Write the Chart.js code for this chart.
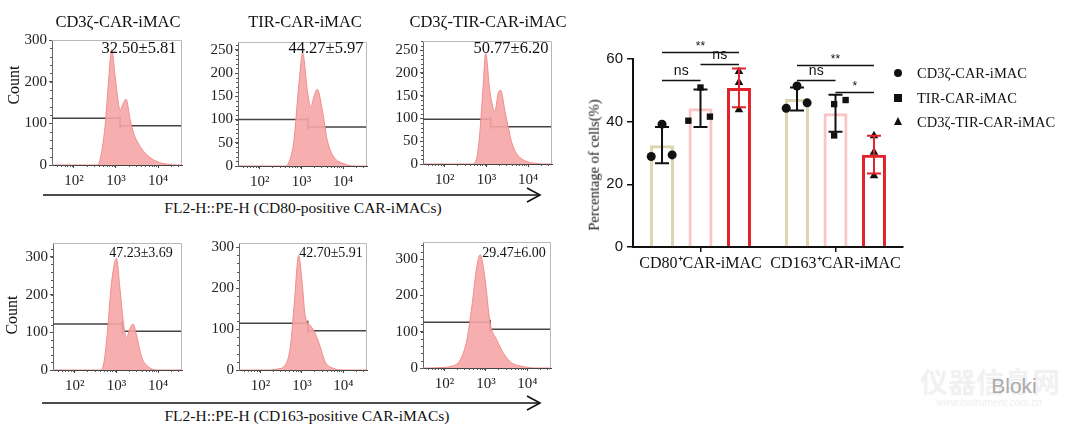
<!DOCTYPE html>
<html><head><meta charset="utf-8">
<script src="https://cdn.jsdelivr.net/npm/chart.js@4.4.0/dist/chart.umd.min.js"></script>
<style>
html,body{margin:0;padding:0;background:#fff;}
body{width:1080px;height:427px;position:relative;overflow:hidden;font-family:"Liberation Serif",serif;color:#111;}
.t{position:absolute;white-space:nowrap;transform:translate(-50%,-50%);line-height:1;}
canvas{position:absolute;}
svg{position:absolute;left:0;top:0;}
</style></head><body>
<svg width="1080" height="427" id="arrows"></svg>
<script>
// ================= DATA =================
const histTitles = ['CD3ζ-CAR-iMAC', 'TIR-CAR-iMAC', 'CD3ζ-TIR-CAR-iMAC'];
const histStats = ['32.50±5.81', '44.27±5.97', '50.77±6.20', '47.23±3.69', '42.70±5.91', '29.47±6.00'];
const flowAxisTitles = ['FL2-H::PE-H (CD80-positive CAR-iMACs)', 'FL2-H::PE-H (CD163-positive CAR-iMACs)'];
const countTitle = 'Count';
const logTickValues = [2, 3, 4];
const logTickLabels = ['10²', '10³', '10⁴'];

// histogram curves: log10(FL2-H) positions and counts
const h1Log   = [1.48, 2.54, 2.62, 2.74, 2.82, 2.90, 2.98, 3.10, 3.18, 3.24, 3.34, 3.42, 3.58, 3.74, 3.98, 4.22, 4.46, 4.57];
const h1Count = [0,    0,    12,   92,   196,  278,  214,  132,  150,  158,  108,  76,   44,   24,   8,    2,    0,    0];
const h2Log   = [1.48, 2.62, 2.70, 2.82, 2.94, 3.03, 3.14, 3.22, 3.31, 3.38, 3.50, 3.62, 3.78, 4.02, 4.26, 4.57];
const h2Count = [0,    0,    8,    55,   178,  243,  163,  127,  153,  165,  120,  55,   19,   5,    0,    0];
const h3Log   = [1.48, 2.64, 2.76, 2.84, 2.92, 2.98, 3.08, 3.20, 3.28, 3.34, 3.44, 3.52, 3.60, 3.72, 3.88, 4.12, 4.35, 4.57];
const h3Count = [0,    0,    10,   67,   170,  243,  162,  115,  155,  162,  118,  82,   49,   23,   9,    2,    0,    0];
const h4Log   = [1.48, 2.60, 2.68, 2.78, 2.88, 3.00, 3.08, 3.16, 3.24, 3.32, 3.40, 3.48, 3.60, 3.76, 3.96, 4.57];
const h4Count = [0,    0,    10,   97,   229,  296,  221,  132,  84,   110,  122,  93,   35,   9,    0,    0];
const h5Log   = [1.48, 2.24, 2.44, 2.56, 2.72, 2.82, 2.92, 3.00, 3.08, 3.20, 3.32, 3.44, 3.56, 3.76, 4.00, 4.57];
const h5Count = [0,    0,    3,    8,    57,   170,  280,  219,  130,  109,  89,   57,   20,   4,    0,    0];
const h6Log   = [1.48, 1.62, 1.86, 2.18, 2.38, 2.54, 2.66, 2.78, 2.86, 2.97, 3.10, 3.26, 3.42, 3.62, 3.86, 4.18, 4.57];
const h6Count = [0,    0,    1,    5,    23,   78,   170,  280,  312,  252,  124,  78,   41,   14,   5,    0,    0];

// gates: split position (log10) and left / right marker heights (counts)
const gateLog   = [3.10, 3.15, 3.10, 3.14, 3.14, 3.10];
const gateLeft  = [112, 100, 98, 122, 114, 126];
const gateRight = [94, 84, 82, 103, 96, 107];
const histYMax  = [300, 267, 270, 337, 310, 347];
const histYStep = [100, 50, 50, 100, 100, 100];

// bar chart
const groups = ['CD80⁺CAR-iMAC', 'CD163⁺CAR-iMAC'];
const seriesNames = ['CD3ζ-CAR-iMAC', 'TIR-CAR-iMAC', 'CD3ζ-TIR-CAR-iMAC'];
const meanCD3z    = [32.50, 47.23];
const meanTIR     = [44.27, 42.70];
const meanCD3zTIR = [50.77, 29.47];
const sdCD3z      = [5.81, 3.69];
const sdTIR       = [5.97, 5.91];
const sdCD3zTIR   = [6.20, 6.00];
const ptsCD3z     = [[28.9, 39.2, 29.4], [44.3, 51.4, 46.0]];
const ptsTIR      = [[40.3, 50.9, 41.6], [45.6, 46.9, 35.6]];
const ptsCD3zTIR  = [[56.0, 52.5, 43.8], [35.5, 30.2, 22.7]];
const yAxisTitle = 'Percentage of cells(%)';
// significance: [group, seriesA, seriesB, level(%), label]
const sigBrackets = [
  [0, 0, 2, 62.2, '**'], [0, 1, 2, 58.4, 'ns'], [0, 0, 1, 53.3, 'ns'],
  [1, 0, 2, 58.1, '**'], [1, 0, 1, 53.3, 'ns'], [1, 1, 2, 49.5, '*']
];

// ================= LAYOUT / STYLE =================
Chart.defaults.animation = false;
const LOG_MIN = 1.48, LOG_MAX = 4.57;
const HIST_BOX = [
  {l:52, t:40, r:182, b:165}, {l:238, t:42, r:367, b:166}, {l:423, t:41, r:552, b:164},
  {l:53, t:243, r:182, b:370}, {l:239, t:243, r:367, b:370}, {l:423, t:242, r:551, b:368}
];
const PAD_T = 12, PAD_R = 12, Y_W = 40, X_H = 26;
const SERIF = 'Liberation Serif', SANS = 'Liberation Sans';

function makeCanvas(left, top, w, h) {
  const c = document.createElement('canvas');
  c.width = w; c.height = h;
  c.style.left = left + 'px'; c.style.top = top + 'px';
  c.style.width = w + 'px'; c.style.height = h + 'px';
  document.body.appendChild(c);
  return c;
}
function addText(txt, x, y, css) {
  const d = document.createElement('div');
  d.className = 't'; d.textContent = txt;
  d.style.left = x + 'px'; d.style.top = y + 'px';
  Object.assign(d.style, css || {});
  document.body.appendChild(d);
  return d;
}

const framePlugin = {
  id: 'frame',
  afterDraw(chart) {
    const {ctx, chartArea: a} = chart;
    ctx.save();
    ctx.strokeStyle = '#b8b8b8'; ctx.lineWidth = 1;
    ctx.beginPath();
    ctx.moveTo(a.left, a.top + 0.5); ctx.lineTo(a.right - 0.5, a.top + 0.5); ctx.lineTo(a.right - 0.5, a.bottom);
    ctx.stroke();
    const xs = chart.scales.x, ys = chart.scales.y;
    ctx.strokeStyle = '#555'; ctx.beginPath();
    for (let n = 1; n <= 4; n++) for (let k = 2; k <= 9; k++) {
      const v = Math.log10(k * Math.pow(10, n));
      if (v < xs.min || v > xs.max) continue;
      const px = Math.round(xs.getPixelForValue(v)) + 0.5;
      ctx.moveTo(px, a.bottom); ctx.lineTo(px, a.bottom + 2);
    }
    const st = chart.options.scales.y.ticks.stepSize / 5;
    for (let v = 0; v <= ys.max; v += st) {
      const py = Math.round(ys.getPixelForValue(v)) + 0.5;
      ctx.moveTo(a.left, py); ctx.lineTo(a.left - 2, py);
    }
    ctx.stroke();
    ctx.restore();
  }
};

const histData = [[h1Log, h1Count], [h2Log, h2Count], [h3Log, h3Count], [h4Log, h4Count], [h5Log, h5Count], [h6Log, h6Count]];
histData.forEach((d, i) => {
  const box = HIST_BOX[i];
  const w = box.r - box.l + Y_W + PAD_R, h = box.b - box.t + PAD_T + X_H;
  const cv = makeCanvas(box.l - Y_W, box.t - PAD_T, w, h);
  const ov = 6 * histYMax[i] / 300;
  const gatePts = [
    {x: LOG_MIN, y: gateLeft[i]}, {x: gateLog[i], y: gateLeft[i]}, {x: gateLog[i], y: gateLeft[i] + ov},
    {x: gateLog[i], y: gateRight[i] - ov}, {x: gateLog[i], y: gateRight[i]}, {x: LOG_MAX, y: gateRight[i]}
  ];
  new Chart(cv, {
    type: 'line',
    data: {datasets: [
      {data: d[0].map((x, k) => ({x, y: d[1][k]})), fill: 'origin', backgroundColor: 'rgba(246,165,165,0.9)',
       borderColor: '#f08c8c', borderWidth: 1, pointRadius: 0, cubicInterpolationMode: 'monotone'},
      {data: gatePts, borderColor: '#444', borderWidth: 1.5, pointRadius: 0, fill: false, tension: 0}
    ]},
    options: {
      responsive: false, events: [],
      layout: {padding: {top: PAD_T, right: PAD_R, left: 0, bottom: 0}},
      plugins: {legend: {display: false}, tooltip: {enabled: false}},
      scales: {
        x: {type: 'linear', min: LOG_MIN, max: LOG_MAX,
            afterBuildTicks: s => { s.ticks = logTickValues.map(v => ({value: v})); },
            afterFit: s => { s.height = X_H; },
            ticks: {callback: v => logTickLabels[logTickValues.indexOf(v)], font: {family: SERIF, size: 15},
                    color: '#222', padding: 4, maxRotation: 0, autoSkip: false},
            grid: {drawOnChartArea: false, drawTicks: true, tickLength: 3, color: '#444'},
            border: {color: '#444', width: 1}},
        y: {type: 'linear', min: 0, max: histYMax[i],
            afterBuildTicks: s => { const t = []; for (let v = 0; v <= histYMax[i]; v += histYStep[i]) t.push({value: v}); s.ticks = t; },
            afterFit: s => { s.width = Y_W; },
            ticks: {stepSize: histYStep[i], font: {family: SERIF, size: 15}, color: '#222', padding: 2},
            grid: {drawOnChartArea: false, drawTicks: true, tickLength: 3, color: '#555'},
            border: {color: '#666', width: 1}}
      }
    },
    plugins: [framePlugin]
  });
});

// histogram texts
const titlePos = [[118, 22], [305, 22], [488, 22]];
histTitles.forEach((t, i) => addText(t, titlePos[i][0], titlePos[i][1], {fontSize: '16.5px'}));
const statPos = [[139, 48], [326, 48], [511, 48], [141, 253], [331, 253], [514, 253]];
histStats.forEach((t, i) => addText(t, statPos[i][0], statPos[i][1], {fontSize: i < 3 ? '16.5px' : '14px'}));
addText(countTitle, 14, 85, {fontSize: '16px', transform: 'translate(-50%,-50%) rotate(-90deg)'});
addText(countTitle, 12, 315, {fontSize: '16px', transform: 'translate(-50%,-50%) rotate(-90deg)'});
addText(flowAxisTitles[0], 303, 208, {fontSize: '15.5px'});
addText(flowAxisTitles[1], 307, 416, {fontSize: '15.5px'});
document.getElementById('arrows').innerHTML =
  '<g stroke="#111" stroke-width="1.6" fill="none">' +
  '<line x1="43" y1="195" x2="540" y2="195"/><polyline points="527,188 540,195 527,202"/>' +
  '<line x1="42" y1="403" x2="540" y2="403"/><polyline points="527,396 540,403 527,410"/></g>';

// ================= BAR CHART =================
const means = [meanCD3z, meanTIR, meanCD3zTIR];
const sds = [sdCD3z, sdTIR, sdCD3zTIR];
const pts = [ptsCD3z, ptsTIR, ptsCD3zTIR];
const barColors = ['#ddd5b2', '#f8c6c6', '#e3232b'];
const errColors = ['#111', '#111', '#e3232b'];
const markerStyles = ['circle', 'rect', 'triangle'];
const groupOffsets = [-0.285, 0, 0.285];
const jitter = [
  [[-0.08, 0, 0.075], [-0.09, 0, 0.07], [0, 0, 0]],
  [[-0.08, 0, 0.075], [-0.01, 0.075, -0.01], [0, 0, 0]]
];

const barDatasets = means.map((m, s) => ({
  type: 'bar', label: seriesNames[s], xAxisID: 'x', yAxisID: 'y',
  data: m.map((v, g) => ({x: g + groupOffsets[s], y: v})),
  backgroundColor: 'rgba(255,255,255,0)', borderColor: barColors[s], borderWidth: 3,
  borderSkipped: 'bottom', grouped: false, maxBarThickness: 24, order: 3
}));
const pointDatasets = pts.map((p, s) => ({
  type: 'scatter', label: seriesNames[s] + ' pts', xAxisID: 'x', yAxisID: 'y', order: 1,
  data: p.flatMap((vals, g) => vals.map((v, k) => ({x: g + groupOffsets[s] + jitter[g][s][k], y: v}))),
  pointStyle: markerStyles[s], pointRadius: s === 2 ? 5 : 4.5, backgroundColor: '#111', borderColor: '#111', borderWidth: 0
}));

const errPlugin = {
  id: 'errs',
  afterDatasetsDraw(chart) {
    const {ctx} = chart, xs = chart.scales.x, y = chart.scales.y;
    ctx.save();
    means.forEach((m, s) => m.forEach((v, g) => {
      const px = xs.getPixelForValue(g + groupOffsets[s]);
      const top = y.getPixelForValue(v + sds[s][g]), bot = y.getPixelForValue(v - sds[s][g]);
      ctx.strokeStyle = errColors[s]; ctx.lineWidth = 2;
      ctx.beginPath();
      ctx.moveTo(px, top); ctx.lineTo(px, bot);
      ctx.moveTo(px - 7, top); ctx.lineTo(px + 7, top);
      ctx.moveTo(px - 7, bot); ctx.lineTo(px + 7, bot);
      ctx.stroke();
    }));
    ctx.strokeStyle = '#111'; ctx.fillStyle = '#111'; ctx.lineWidth = 1.5;
    ctx.textAlign = 'center'; ctx.textBaseline = 'bottom';
    sigBrackets.forEach(([g, a, b, lev, lab]) => {
      const xa = xs.getPixelForValue(g + groupOffsets[a]), xb = xs.getPixelForValue(g + groupOffsets[b]);
      const py = Math.round(y.getPixelForValue(lev)) + 0.5;
      ctx.beginPath(); ctx.moveTo(xa, py); ctx.lineTo(xb, py); ctx.stroke();
      ctx.font = (lab === 'ns' ? '14px ' : '12px ') + SANS;
      ctx.fillText(lab, (xa + xb) / 2, py - (lab === 'ns' ? 2 : 0));
    });
    ctx.restore();
  }
};

const bc = makeCanvas(600, 20, 320, 260);
new Chart(bc, {
  type: 'bar',
  data: {datasets: [...barDatasets, ...pointDatasets]},
  options: {
    responsive: false, events: [],
    layout: {padding: {top: 39, right: 17, left: 0, bottom: 0}},
    plugins: {legend: {display: false}, tooltip: {enabled: false}},
    scales: {
      x: {type: 'linear', min: -0.5, max: 1.5, offset: false,
          afterBuildTicks: s => { s.ticks = groups.map((_, g) => ({value: g})); },
          grid: {display: true, drawOnChartArea: false, offset: false, tickLength: 5, color: '#111', lineWidth: 1.5},
          border: {color: '#111', width: 2},
          ticks: {callback: v => groups[v], font: {family: SERIF, size: 16}, color: '#111', padding: 2,
                  maxRotation: 0, minRotation: 0, autoSkip: false},
          afterFit: s => { s.height = 33; }},
      y: {min: 0, max: 60, ticks: {stepSize: 20, font: {family: SANS, size: 15}, color: '#111', padding: 4},
          grid: {drawOnChartArea: false, tickLength: 6, color: '#111', lineWidth: 1.5},
          border: {color: '#111', width: 2},
          afterFit: s => { s.width = 33; }}
    }
  },
  plugins: [errPlugin]
});

addText(yAxisTitle, 594, 165, {fontSize: '14.5px', transform: 'translate(-50%,-50%) rotate(-90deg)'});

// legend
const legendY = [73, 98, 122];
seriesNames.forEach((n, s) => {
  const m = document.createElement('div');
  m.style.position = 'absolute';
  if (s === 0) Object.assign(m.style, {left: '894px', top: (legendY[s] - 4) + 'px', width: '8px', height: '8px', borderRadius: '50%', background: '#111'});
  if (s === 1) Object.assign(m.style, {left: '894px', top: (legendY[s] - 4) + 'px', width: '8px', height: '8px', background: '#111'});
  if (s === 2) Object.assign(m.style, {left: '894px', top: (legendY[s] - 5) + 'px', width: '0', height: '0',
    borderLeft: '4.5px solid transparent', borderRight: '4.5px solid transparent', borderBottom: '8px solid #111'});
  document.body.appendChild(m);
  addText(n, 917, legendY[s], {fontSize: '14.5px', transform: 'translate(0,-50%)'});
});

// watermark
addText('仪器信息网', 990, 381, {fontFamily: '"Noto Sans CJK SC"', fontSize: '28px', fontWeight: '700', color: '#f1f1f1'});
addText('www.instrument.com.cn', 989, 403, {fontFamily: SANS, fontSize: '10px', color: '#efefef', fontStyle: 'italic'});
addText('Bloki', 1014, 385, {fontFamily: SANS, fontSize: '21px', color: '#a9a9a9'});
</script>
</body></html>
